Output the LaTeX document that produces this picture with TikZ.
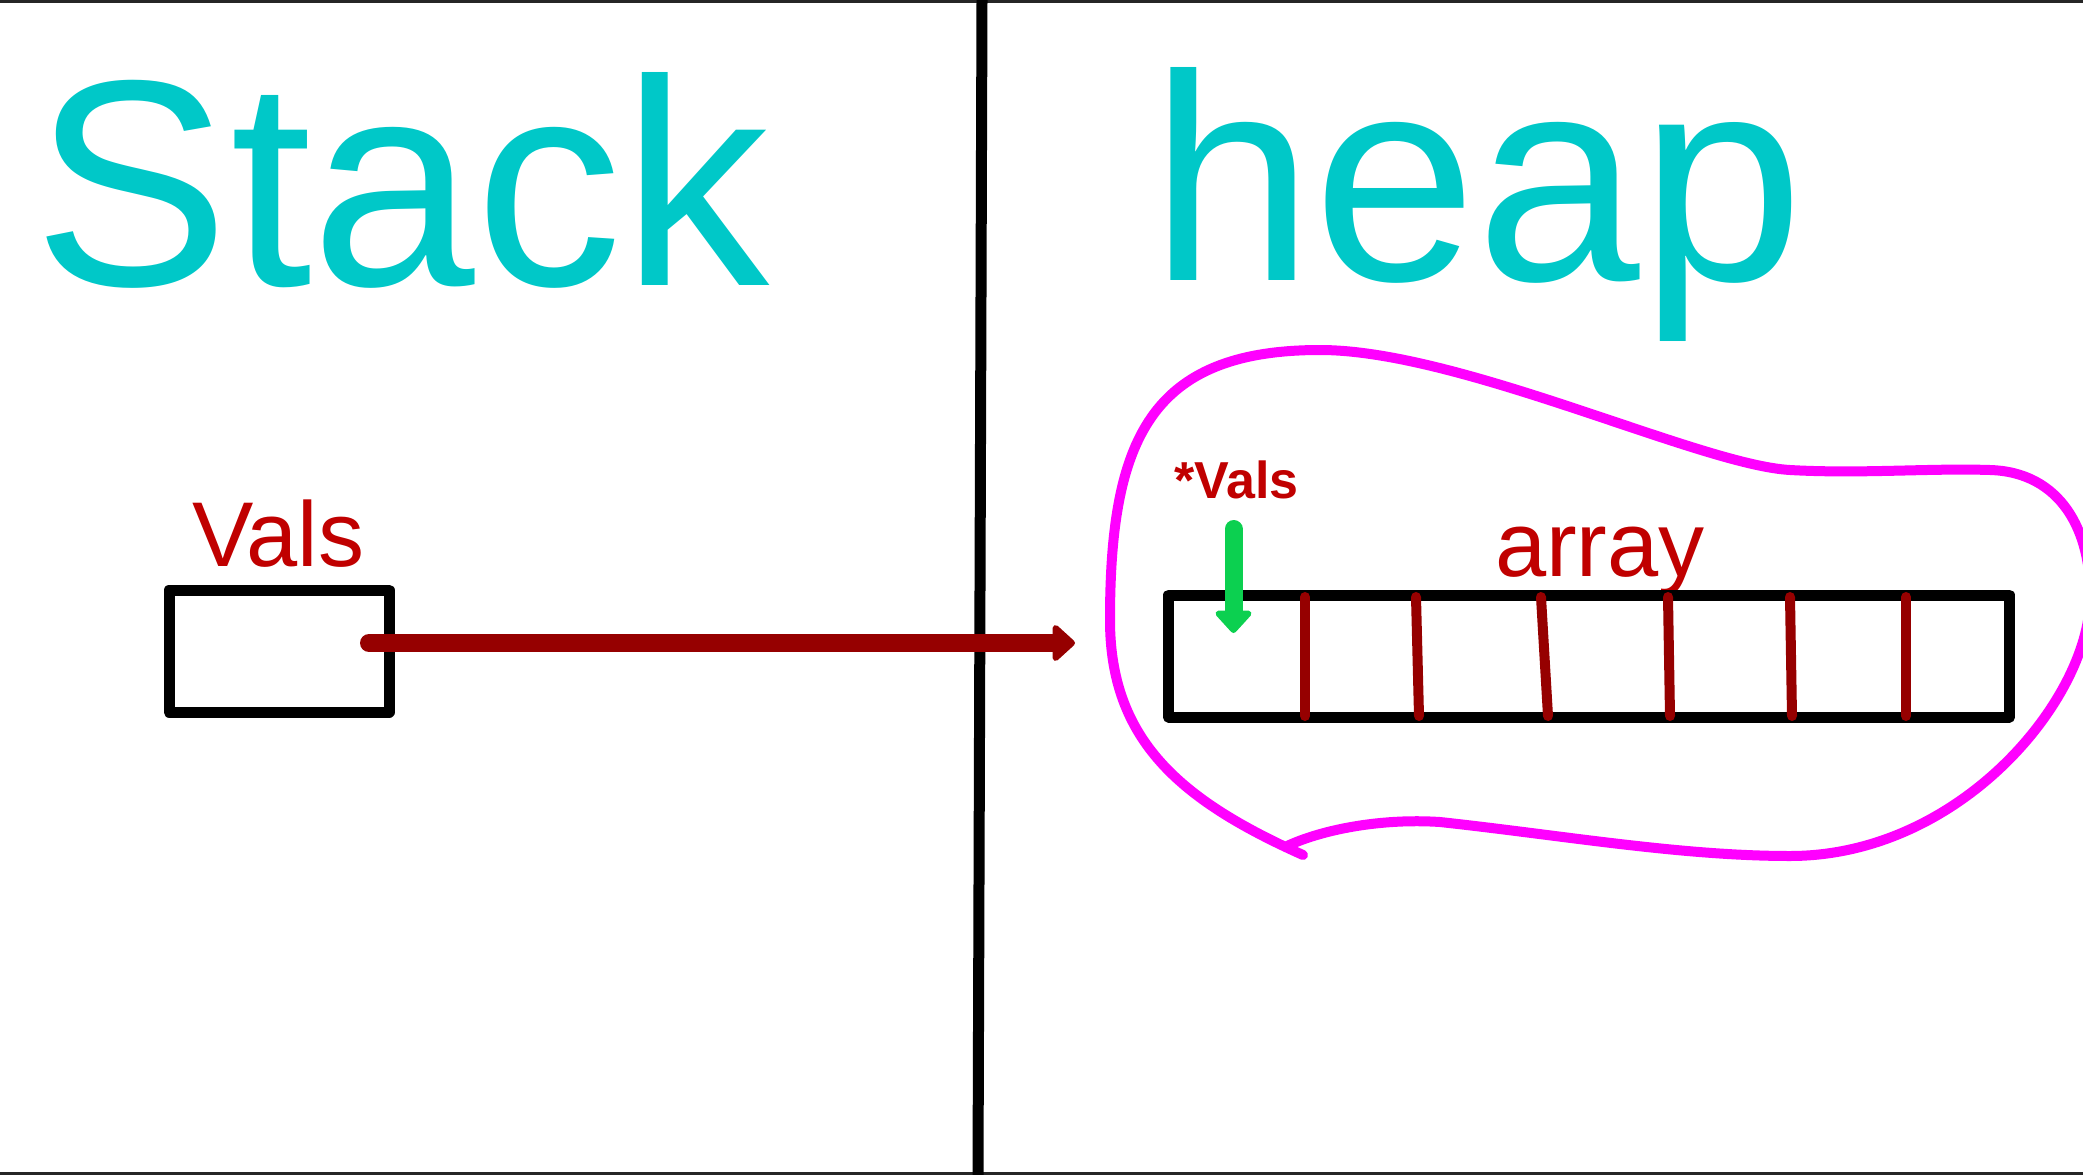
\documentclass[tikz,border=0pt]{standalone}
\usepackage{fontspec}
\setmainfont{Liberation Sans}
\usetikzlibrary{arrows.meta}
\definecolor{titlecol}{RGB}{0,200,200}
\definecolor{labelcol}{RGB}{192,0,0}
\definecolor{ptrcol}{RGB}{150,0,0}
\definecolor{greencol}{RGB}{12,208,80}
\definecolor{blobcol}{RGB}{255,0,255}
\begin{document}
\begin{tikzpicture}[x=1pt,y=-1pt,
    title/.style={text=titlecol,font=\fontsize{294}{300}\selectfont,inner sep=0,outer sep=0,anchor=base west},
    label/.style={text=labelcol,font=\fontsize{92}{96}\selectfont,inner sep=0,outer sep=0,anchor=base west},
    cell/.style={draw,line width=11pt,inner sep=0,line join=round},
    ptr/.style={line width=18pt,line cap=round,-{Triangle[length=24pt,width=42pt,round]}}
  ]
  \useasboundingbox (0,0) rectangle (2083,1175);
  % frame and divider
  \draw[line width=3pt,black!85] (0,1.5) -- (2083,1.5) (0,1173.5) -- (2083,1173.5);
  \draw[line width=11pt] (982,0) -- (978,1175);
  % titles
  \draw
    (34,285) node[title] (stack){Stack}
    (1150,280) node[title] (heap){heap}
    (192,566) node[label] (valsname){Vals}
    (1495,576) node[label] (arrayname){array}
    (1174.5,498) node[label,font=\bfseries\fontsize{52}{54}\selectfont] (ptrname){*Vals};
  % boxes
  \node[cell,minimum width=220pt,minimum height=122pt] (vals) at (279,651) {};
  \node[cell,minimum width=841pt,minimum height=122pt] (array) at (1589,656) {};
  \foreach \a/\b in {1305/1305,1416/1419,1541/1548,1668/1670,1790/1792,1906/1906}
    \draw[ptrcol,line width=10pt,line cap=round] (\a,597) -- (\b,716);
  % heap outline
  \draw[blobcol,line width=10pt,line cap=round,line join=round]
    (1303,855) .. controls (1180,800) and (1110,740) .. (1110,620)
    .. controls (1110,440) and (1150,350) .. (1320,350)
    .. controls (1460,350) and (1700,465) .. (1790,470)
    .. controls (1860,474) and (1930,468) .. (1990,470)
    .. controls (2060,472) and (2092,530) .. (2090,600)
    .. controls (2088,700) and (1960,856) .. (1790,856)
    .. controls (1680,856) and (1560,835) .. (1440,822)
    .. controls (1380,818) and (1320,830) .. (1285,847);
  % pointers
  \coordinate (p0) at (369,643);
  \coordinate (p1) at (1075,643);
  \coordinate (g0) at (1233.5,529);
  \coordinate (g1) at (1233.5,633);
  \draw[ptr,ptrcol] (p0) -- (p1);
  \draw[ptr,greencol] (g0) -- (g1);
\end{tikzpicture}
\end{document}
